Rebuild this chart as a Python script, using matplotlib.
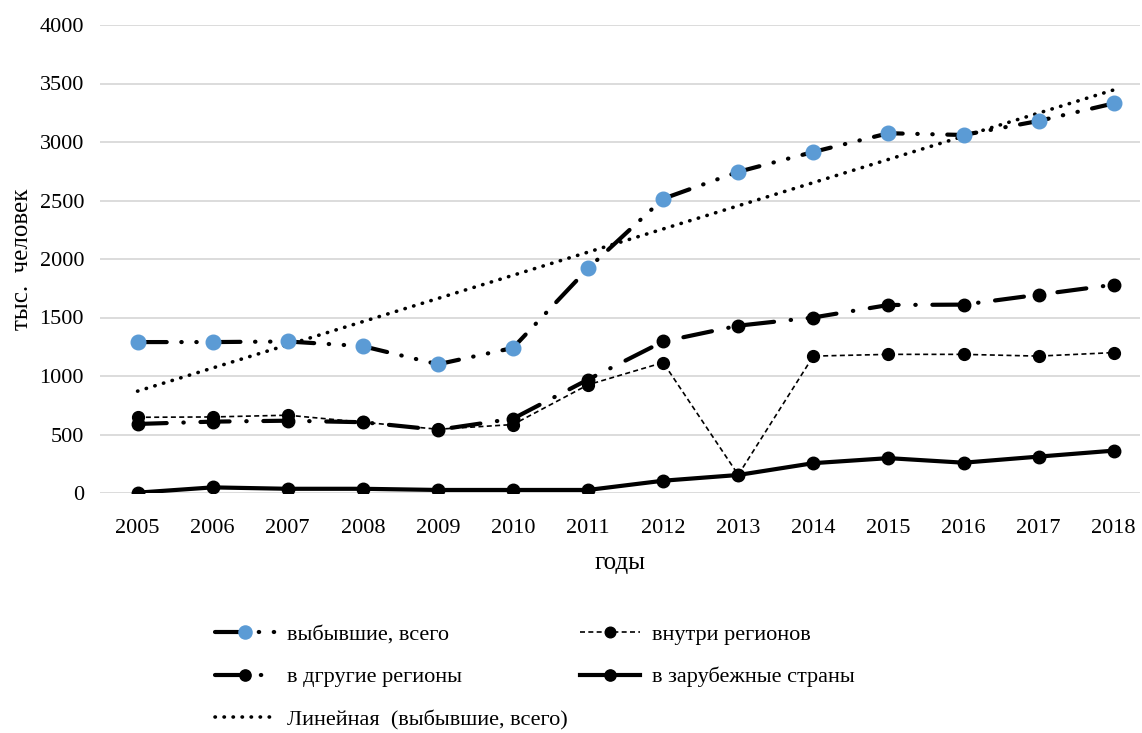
import numpy as np
import matplotlib as mpl
import matplotlib.pyplot as plt

plt.rcParams['font.family'] = ['Liberation Serif', 'DejaVu Serif']

years = np.arange(2005, 2019)

# тыс. человек
total = [1290, 1290, 1295, 1255, 1100, 1240, 1920, 2515, 2745, 2915, 3075, 3060, 3180, 3330]
inside = [647, 650, 665, 605, 545, 585, 925, 1115, 155, 1170, 1185, 1185, 1170, 1200]
other = [590, 610, 618, 605, 540, 635, 970, 1295, 1430, 1500, 1607, 1610, 1695, 1780]
abroad = [3, 48, 36, 36, 26, 26, 26, 105, 154, 255, 298, 259, 311, 362]

labels = ['выбывшие, всего', 'внутри регионов', 'в дгругие регионы',
          'в зарубежные страны', 'Линейная  (выбывшие, всего)']

fig = plt.figure(figsize=(11.42, 7.33), dpi=100)
ax = fig.add_axes([100 / 1142, 240 / 733, 1040 / 1142, 468 / 733])

for y in range(0, 4001, 500):
    ax.axhline(y, color='#d9d9d9', lw=1.3, zorder=0)

# trend line (linear fit of total)
k, b = np.polyfit(years, total, 1)
l_trend, = ax.plot(years, k * years + b, color='black', lw=2.6, dashes=(0.1, 2.4),
                   dash_capstyle='round', zorder=2)

l_abroad, = ax.plot(years, abroad, color='black', lw=3, marker='o', ms=9,
                    mfc='black', mec='black', zorder=3)
l_inside, = ax.plot(years, inside, color='black', lw=1.2, dashes=(3, 2),
                    marker='o', ms=8.5, mfc='black', mec='black', zorder=3)
l_other, = ax.plot(years, other, color='black', lw=3, dashes=(7, 4, 0.1, 4),
                   dash_capstyle='round', marker='o', ms=9, mfc='black',
                   mec='black', zorder=3)
l_total, = ax.plot(years, total, color='black', lw=3, dashes=(7, 3.5, 0.1, 3.5, 0.1, 3.5),
                   dash_capstyle='round', marker='o', ms=10.5, mfc='#5b9bd5',
                   mec='#5b9bd5', zorder=4)

ax.set_xlim(2004.5, 2018.35)
ax.set_ylim(0, 4000)
ax.set_xticks(years)
ax.set_yticks(range(0, 4001, 500))
ax.tick_params(length=0, labelsize=16)
ax.tick_params(axis='x', pad=19)
ax.tick_params(axis='y', pad=11.5)
for s in ax.spines.values():
    s.set_visible(False)

ax.set_xlabel('годы', fontsize=18, labelpad=10)
ax.set_ylabel('тыс.  человек', fontsize=18, labelpad=5)

leg_kw = dict(loc='upper left', frameon=False, fontsize=16, handlelength=2.7,
              handletextpad=0.55, labelspacing=1.0, borderpad=0, borderaxespad=0,
              markerscale=0.9)
fig.legend([l_total, l_other, l_trend], [labels[0], labels[2], labels[4]],
           bbox_to_anchor=(215 / 1142, 1 - 624 / 733), **leg_kw)
fig.legend([l_inside, l_abroad], [labels[1], labels[3]],
           bbox_to_anchor=(580 / 1142, 1 - 624 / 733), **leg_kw)

fig.savefig('out.png', dpi=100)
